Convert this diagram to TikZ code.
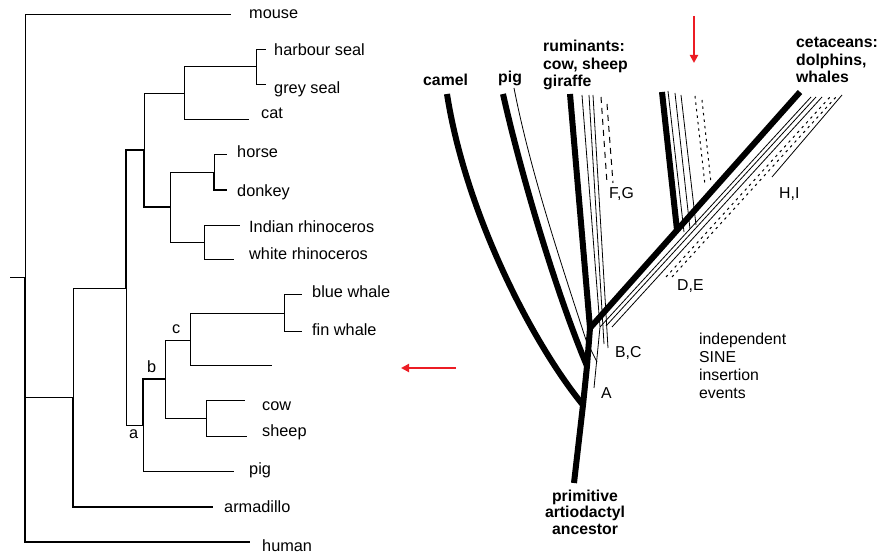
\documentclass[tikz,border=0pt]{standalone}
\usepackage{fontspec}
\setmainfont{Liberation Sans}
\usetikzlibrary{arrows.meta}

\definecolor{arrowred}{RGB}{236,28,36}

\tikzset{
  branch/.style={line width=0.9pt},
  branchthick/.style={line width=1.25pt},
  taxon/.style={anchor=base west, inner sep=0pt, font=\fontsize{16.3}{19}\selectfont},
  lineage/.style={line width=6pt},
  sine/.style={line width=0.8pt},
  sinedash/.style={line width=1pt, dash pattern=on 6pt off 5pt},
  sinedot/.style={line width=1pt, dash pattern=on 2.5pt off 4pt},
  grouplabel/.style={anchor=base west, inner sep=0pt, align=left, font=\fontsize{15.8}{17.8}\selectfont\bfseries},
  eventlabel/.style={anchor=base west, inner sep=0pt, align=left, font=\fontsize{15.8}{17.8}\selectfont},
  redarrow/.style={arrowred, line width=2.4pt, -{Triangle[length=8pt,width=8pt]}},
}

\begin{document}
\begin{tikzpicture}[x=1pt,y=-1pt]
  \useasboundingbox (0,0) rectangle (879,556);

  % left: molecular tree
  % internal nodes
  \coordinate (stub) at (10,277);
  \coordinate (root) at (25,277);
  \coordinate (n1) at (73,397);
  \coordinate (n2) at (126,288);
  \coordinate (n3) at (144,150);
  \coordinate (ncarn) at (184,93);
  \coordinate (nseal) at (256,66);
  \coordinate (nperi) at (170,207);
  \coordinate (nequ) at (214,172);
  \coordinate (nrhino) at (204,242);
  \coordinate (na) at (143,425);
  \coordinate (nb) at (165,379);
  \coordinate (nc) at (190,340);
  \coordinate (nwhale) at (284,313);
  \coordinate (nrum) at (206,418);
  % branch ends
  \coordinate (emouse) at (231,14);
  \coordinate (ehseal) at (266,49);
  \coordinate (egseal) at (266,84);
  \coordinate (ecat) at (249,119);
  \coordinate (ehorse) at (227,154);
  \coordinate (edonkey) at (227,190);
  \coordinate (eirhino) at (240,225);
  \coordinate (ewrhino) at (234,259);
  \coordinate (ebwhale) at (302,294);
  \coordinate (efwhale) at (302,331);
  \coordinate (eblank) at (272,365);
  \coordinate (ecow) at (245,400);
  \coordinate (esheep) at (247,436);
  \coordinate (epig) at (234,471);
  \coordinate (earma) at (213,507);
  \coordinate (ehuman) at (250,542);

  \draw[branch] (stub) -- (root);
  \foreach \p/\c in {root/emouse, root/n1, n1/n2, n3/ncarn, ncarn/nseal,
      nseal/ehseal, nseal/egseal, ncarn/ecat, nperi/nequ, nequ/ehorse,
      nrhino/eirhino, nrhino/ewrhino, nperi/nrhino, n2/na, na/epig,
      nb/nc, nc/nwhale, nwhale/ebwhale, nwhale/efwhale, nc/eblank,
      nb/nrum, nrum/ecow, nrum/esheep}
    \draw[branch] (\p) |- (\c);
  \foreach \p/\c in {root/ehuman, n1/earma, n2/n3, n3/nperi, nequ/edonkey, na/nb}
    \draw[branchthick] (\p) |- (\c);

  \node[taxon] at (249,18.5) {mouse};
  \node[taxon] at (274,55.5) {harbour seal};
  \node[taxon] at (274,94) {grey seal};
  \node[taxon] at (261,119) {cat};
  \node[taxon] at (237,158) {horse};
  \node[taxon] at (237,196.5) {donkey};
  \node[taxon] at (249,233) {Indian rhinoceros};
  \node[taxon] at (249,260) {white rhinoceros};
  \node[taxon] at (312,297.5) {blue whale};
  \node[taxon] at (312,335.5) {fin whale};
  \node[taxon] at (262,410.5) {cow};
  \node[taxon] at (262,436.5) {sheep};
  \node[taxon] at (249,474) {pig};
  \node[taxon] at (224,512.5) {armadillo};
  \node[taxon] at (262,551.5) {human};
  \node[taxon] at (129,438) {a};
  \node[taxon] at (147,373) {b};
  \node[taxon] at (172,334) {c};

  % red arrows
  \coordinate (lfrom) at (456,368);
  \coordinate (lto) at (401,368);
  \coordinate (dfrom) at (694,16);
  \coordinate (dto) at (694,63);
  \draw[redarrow] (lfrom) -- (lto);
  \draw[redarrow] (dfrom) -- (dto);

  % right: SINE lineages
  \coordinate (base) at (574,483);
  \coordinate (fcamel) at (583,405);
  \coordinate (fpig) at (587,366);
  \coordinate (frc) at (590,328);
  \coordinate (fhip) at (677,230);
  \coordinate (tcamel) at (447,94);
  \coordinate (tpig) at (503,94);
  \coordinate (trum) at (570,94);
  \coordinate (tcet) at (800,92);
  \coordinate (thip) at (662,92);

  \draw[lineage] (base) -- (fcamel) -- (fpig) -- (frc) -- (trum);
  \draw[lineage] (fcamel) .. controls (530,340) and (465,210) .. (tcamel);
  \draw[lineage] (fpig) .. controls (555,290) and (520,170) .. (tpig);
  \draw[lineage] (frc) -- (tcet);
  \draw[lineage] (fhip) -- (thip);

  % insertions A, B, C
  \coordinate (sA) at (594,388);
  \coordinate (kA) at (600,327);
  \draw[sine] (514,88) .. controls (530,170) and (560,260) .. (586,340) -- (597,362);
  \draw[sine] (sA) -- (kA) -- (582,95);
  \draw[sine] (604,344) -- (589,95);
  \draw[sine] (608,348) -- (593,95);
  \draw[sine] (kA) -- (811,97);
  \draw[sine] (606,326) -- (816,97);
  \draw[sine] (612,327) -- (822,97);
  % hippo bundle
  \draw[sine] (668,91) -- (684,232);
  \draw[sine] (675,93) -- (690,229);
  \draw[sine] (681,95) -- (696,225);
  \draw[sinedot] (695,96) -- (705,185);
  \draw[sinedot] (702,100) -- (711,183);
  % D,E and H,I
  \draw[sinedot] (666,277) -- (830,97);
  \draw[sinedot] (672,277) -- (836,97);
  \draw[sine] (772,177) -- (842,95);
  % F,G
  \draw[sinedash] (601,97) -- (607,183);
  \draw[sinedash] (607,104) -- (613,183);

  % multi-line labels sit on their last baseline
  \node[grouplabel] at (423,86) {camel};
  \node[grouplabel] at (498,83) {pig};
  \node[grouplabel] at (543,87) {ruminants:\\cow, sheep\\giraffe};
  \node[grouplabel] at (796,83) {cetaceans:\\dolphins,\\whales};
  \node[grouplabel, anchor=base, align=center, font=\fontsize{15.8}{16.5}\selectfont\bfseries]
    at (585,534) {primitive\\artiodactyl\\ancestor};

  \node[eventlabel] at (609,199) {F,G};
  \node[eventlabel] at (779,199) {H,I};
  \node[eventlabel] at (677,291) {D,E};
  \node[eventlabel] at (615,357) {B,C};
  \node[eventlabel] at (601,398) {A};
  \node[eventlabel] at (699,398) {independent\\SINE\\insertion\\events};
\end{tikzpicture}
\end{document}
